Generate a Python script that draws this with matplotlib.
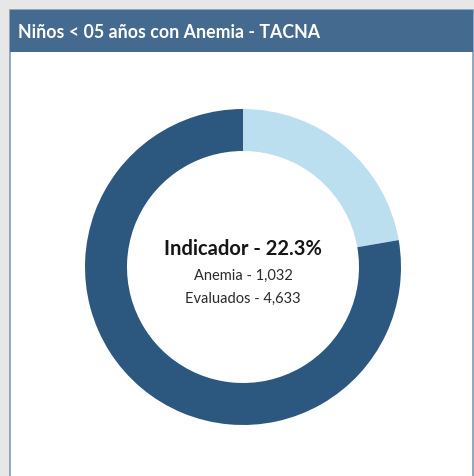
import matplotlib.pyplot as plt
from matplotlib.patches import Rectangle

# data
region = "TACNA"
labels = ["Anemia", "Sin anemia"]
anemia = 1032
evaluados = 4633
values = [anemia, evaluados - anemia]
colors = ["#bcdff0", "#2c5880"]

W, H = 474, 476
fig = plt.figure(figsize=(W / 100, H / 100), dpi=100)
fig.patch.set_facecolor("#e7e7e7")

# pixel box (from top-left) -> figure fraction rect
def px(x, y, w, h):
    return (x / W, 1 - (y + h) / H, w / W, h / H)

# background axis holding the panel and header
bg = fig.add_axes([0, 0, 1, 1])
bg.set_xlim(0, W)
bg.set_ylim(H, 0)
bg.axis("off")
bg.add_patch(Rectangle((10, 10), 463, 470, facecolor="white",
                       edgecolor="#7f9ab5", lw=1.2))
bg.add_patch(Rectangle((10, 10), 463, 42, facecolor="#456a8f", lw=0))
bg.text(18, 32, "Niños < 05 años con Anemia - " + region,
        color="white", fontsize=12.8, fontweight="bold", family="Lato",
        ha="left", va="center")

# donut
cx, cy, R = 243, 267, 158
ax = fig.add_axes(px(cx - R, cy - R, 2 * R, 2 * R))
ax.pie(values, colors=colors, startangle=90, counterclock=False, radius=1,
       wedgeprops=dict(width=42 / R, linewidth=0))
ax.set_xlim(-1, 1)
ax.set_ylim(-1, 1)
ax.axis("off")

pct = 100 * anemia / evaluados
ax.text(0, 0.115, "Indicador - {:.1f}%".format(pct), ha="center", va="center",
        fontsize=14.5, fontweight="bold", family="Lato", color="#151515")
ax.text(0, -0.055, "Anemia - {:,}".format(anemia), ha="center", va="center",
        fontsize=10.5, family="Lato", color="#2a2a2a")
ax.text(0, -0.2, "Evaluados - {:,}".format(evaluados), ha="center", va="center",
        fontsize=10.5, family="Lato", color="#2a2a2a")

fig.savefig("out.png", dpi=100, facecolor=fig.get_facecolor())
